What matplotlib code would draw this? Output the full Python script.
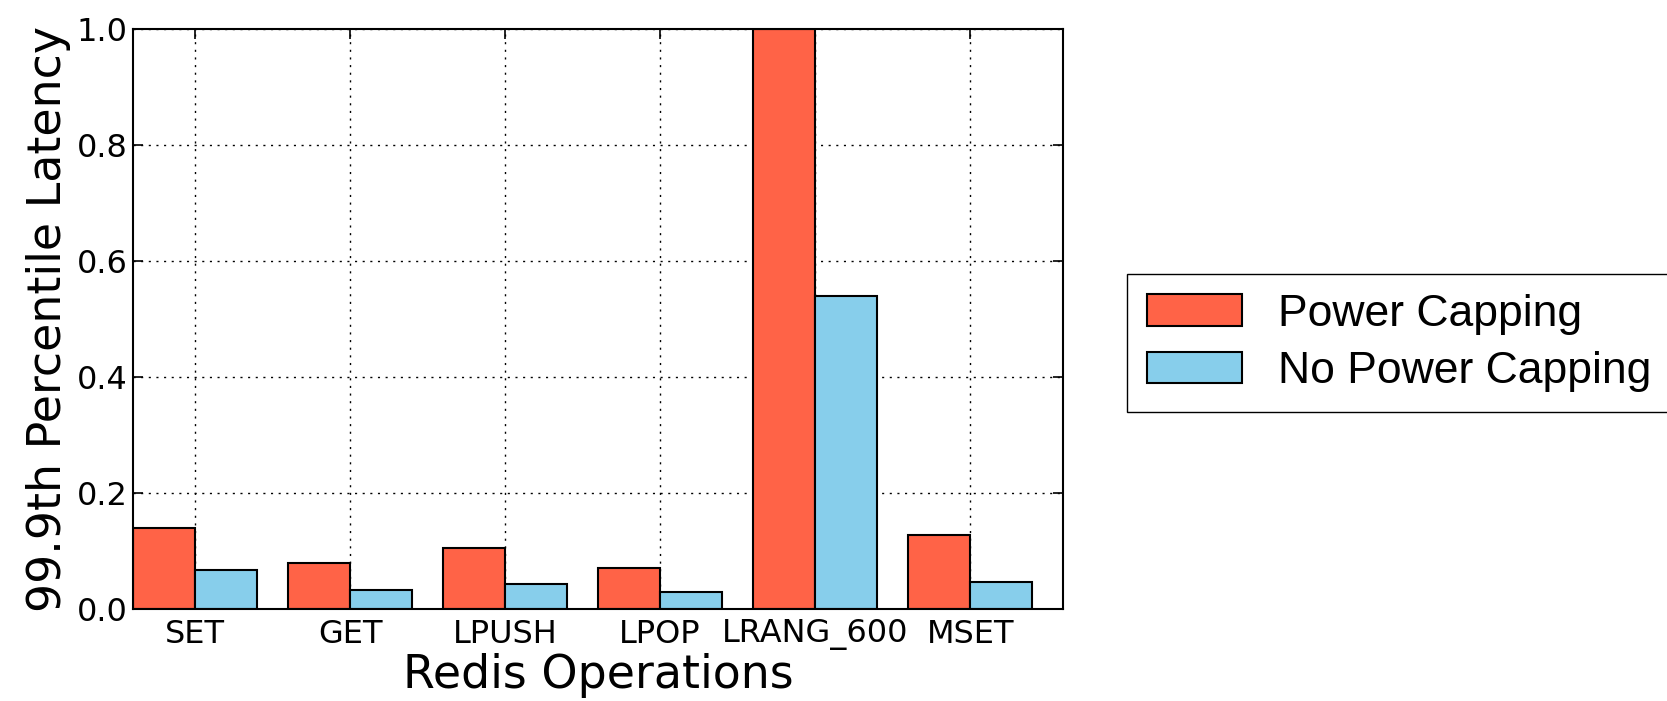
import matplotlib.pyplot as plt
import numpy as np

# Values
operations = ['SET', 'GET', 'LPUSH', 'LPOP', 'LRANG_600', 'MSET']
power_capping = [0.140, 0.079, 0.105, 0.070, 1.0, 0.127]
no_power_capping = [0.067, 0.032, 0.043, 0.030, 0.54, 0.047]
y_ticks = [0.0, 0.2, 0.4, 0.6, 0.8, 1.0]

fig = plt.figure(figsize=(16.67, 7.01), dpi=100)
ax = fig.add_axes([0.0798, 0.1312, 0.558, 0.8274])

x = np.arange(len(operations))
width = 0.4
b1 = ax.bar(x - width, power_capping, width, align='edge', color='tomato',
            edgecolor='black', linewidth=1.5, label='Power Capping')
b2 = ax.bar(x, no_power_capping, width, align='edge', color='skyblue',
            edgecolor='black', linewidth=1.5, label='No Power Capping')

ax.set_xlim(-0.4, 5.6)
ax.set_ylim(0, 1.0)
ax.set_xticks(x)
ax.set_xticklabels(operations)
ax.set_yticks(y_ticks)
ax.set_yticklabels(['%.1f' % t for t in y_ticks])

# classic-style dotted grid and inward ticks
ax.grid(True, color='black', linestyle=(0, (1.5, 4)), linewidth=1.0)
ax.set_axisbelow(True)
ax.tick_params(direction='in', top=True, right=True, length=7, width=1.2,
               labelsize=23)
ax.tick_params(axis='y', pad=4)
ax.tick_params(axis='x', pad=7)
for s in ax.spines.values():
    s.set_linewidth(1.5)

ax.set_xlabel('Redis Operations', fontsize=33, labelpad=2)
ax.set_ylabel('99.9th Percentile Latency', fontsize=33, labelpad=4)

# legend sits outside the axes and runs off the right edge of the figure
fig.legend(handles=[b1, b2], loc='center left',
           bbox_to_anchor=(1127 / 1667, 1 - 343 / 701),
           prop={'family': 'Liberation Sans', 'size': 32},
           fancybox=False, edgecolor='black', framealpha=1,
           handlelength=2.14, handleheight=0.7, handletextpad=0.8,
           borderpad=0.45, labelspacing=0.38, borderaxespad=0)

fig.savefig('out.png', dpi=100)
